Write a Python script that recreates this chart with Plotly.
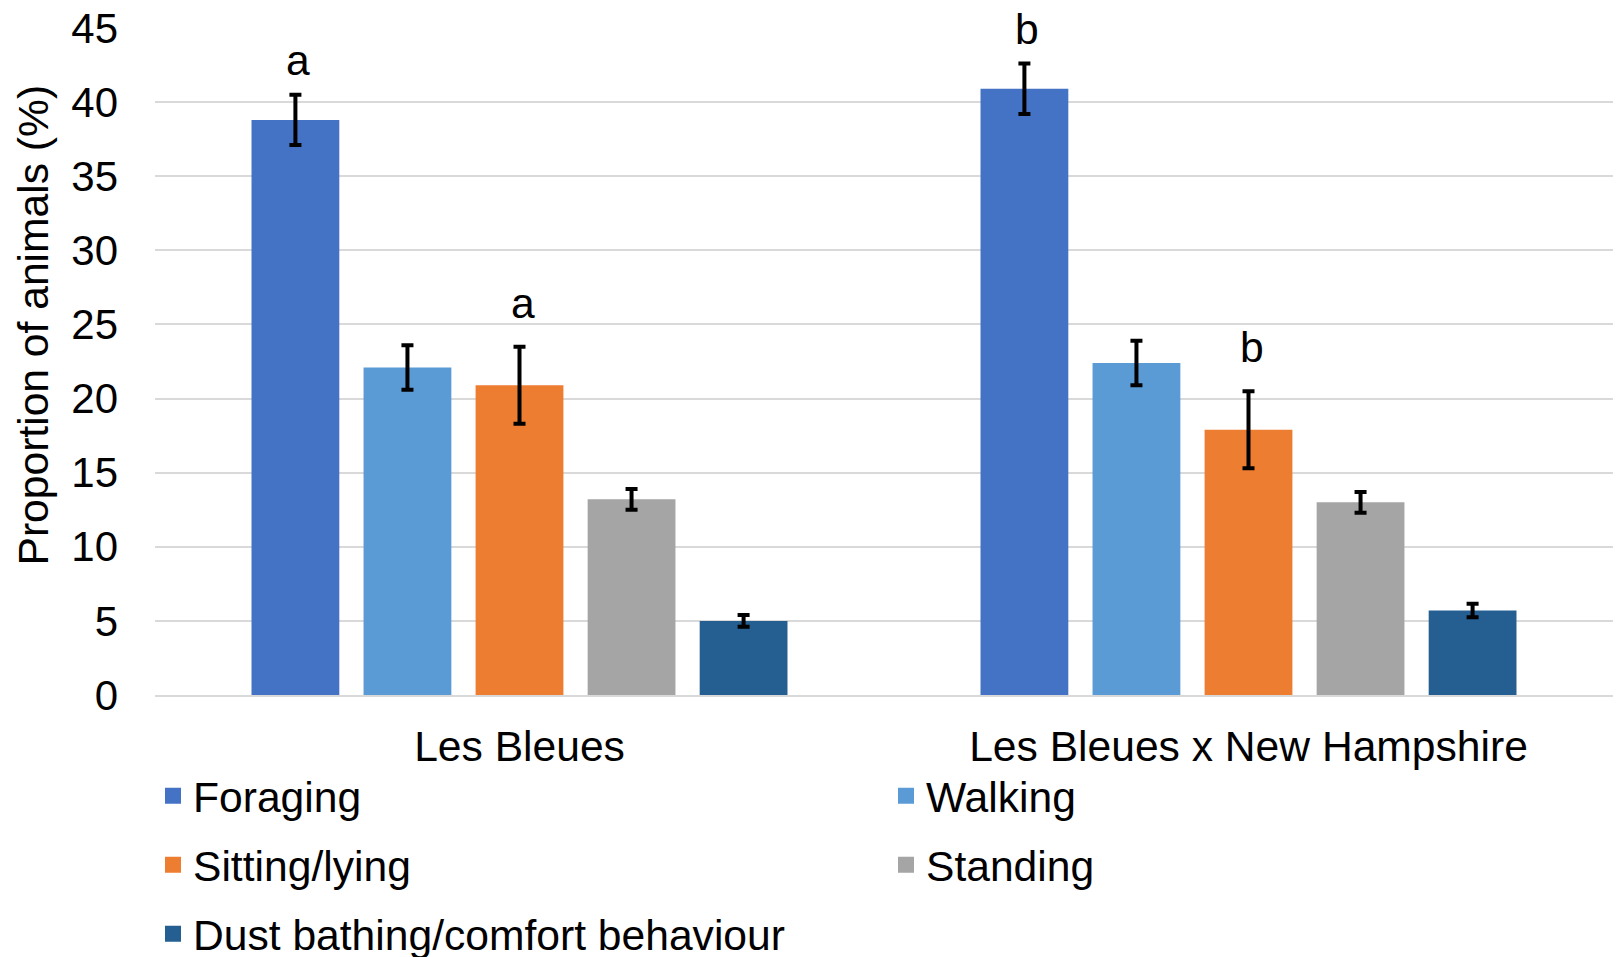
import plotly.graph_objects as go

# Groups (crosses) and behaviour categories
groups = ["Les Bleues", "Les Bleues x New Hampshire"]
behaviours = ["Foraging", "Walking", "Sitting/lying", "Standing",
              "Dust bathing/comfort behaviour"]

# Mean proportion of animals (%) per behaviour, one list per group order
foraging = [38.8, 40.9]
walking = [22.1, 22.4]
sitting = [20.9, 17.9]
standing = [13.2, 13.0]
dust = [5.0, 5.7]

# Error bar half-lengths
foraging_err = [1.7, 1.7]
walking_err = [1.5, 1.5]
sitting_err = [2.6, 2.6]
standing_err = [0.7, 0.7]
dust_err = [0.4, 0.45]

# Significance letters above Foraging and Sitting/lying bars
foraging_letters = ["a", "b"]
sitting_letters = ["a", "b"]

colors = ["#4472C4", "#5B9BD5", "#ED7D31", "#A5A5A5", "#255E91"]
values = [foraging, walking, sitting, standing, dust]
errors = [foraging_err, walking_err, sitting_err, standing_err, dust_err]

FONT = "Liberation Sans, Arial, sans-serif"
TEXT_SIZE = 42.6
TICK_SIZE = 42
BARGAP = 0.2315
GROUPGAP = 0.2164
ML, MR, MT, MB = 155, 6, 28, 262
W, H = 1619, 957

fig = go.Figure()

for name, vals, errs, col in zip(behaviours, values, errors, colors):
    fig.add_trace(go.Bar(
        x=groups, y=vals, name=name, marker_color=col,
        marker_line_width=0, showlegend=False,
        error_y=dict(type="data", array=errs, visible=True,
                     color="black", thickness=4, width=6),
    ))

# Legend: one single-entry legend per behaviour, arranged in a 2-column grid
legend_ids = ["legend", "legend2", "legend3", "legend4", "legend5"]
legend_cells = [(0, 0), (1, 0), (0, 1), (1, 1), (0, 2)]  # (column, row)
col_x = [153, 886]          # px from left where each entry starts
row_y = [796, 865, 934]     # px from top, entry centre line

for name, col, lg in zip(behaviours, colors, legend_ids):
    fig.add_trace(go.Scatter(
        x=[None], y=[None], mode="markers", name=name, legend=lg,
        marker=dict(symbol="square", size=22, color=col, line_width=0),
    ))

# Letter annotations placed over the error bar of each bar
n = len(behaviours)
slot = (1 - BARGAP) / n


def bar_center(group_idx, trace_idx):
    return group_idx - (1 - BARGAP) / 2 + slot * (trace_idx + 0.5)


for trace_idx, letters, lift in [(0, foraging_letters, 9),
                                 (2, sitting_letters, 18)]:
    for g, letter in enumerate(letters):
        top = values[trace_idx][g] + errors[trace_idx][g]
        fig.add_annotation(
            x=bar_center(g, trace_idx), y=top, xref="x", yref="y",
            text=letter, showarrow=False, yanchor="bottom", yshift=lift,
            xshift=3, font=dict(family=FONT, size=TEXT_SIZE, color="black"),
        )

# Vertical axis title
plot_w = W - ML - MR
fig.add_annotation(
    x=(33 - ML) / plot_w, y=0.554, xref="paper", yref="paper",
    text="Proportion of animals (%)", textangle=-90, showarrow=False,
    xanchor="center", yanchor="middle",
    font=dict(family=FONT, size=TEXT_SIZE, color="black"),
)

legend_layout = {}
for lg, (c, r) in zip(legend_ids, legend_cells):
    legend_layout[lg] = dict(
        orientation="h", xref="container", yref="container",
        x=col_x[c] / W, y=1 - row_y[r] / H,
        xanchor="left", yanchor="middle", itemsizing="trace",
        font=dict(family=FONT, size=TEXT_SIZE, color="black"),
        bgcolor="rgba(0,0,0,0)", borderwidth=0,
    )

fig.update_layout(
    width=W, height=H,
    paper_bgcolor="white", plot_bgcolor="white",
    margin=dict(l=ML, r=MR, t=MT, b=MB, autoexpand=False),
    barmode="group", bargap=BARGAP, bargroupgap=GROUPGAP,
    font=dict(family=FONT, color="black"),
    xaxis=dict(
        showgrid=False, showline=True, linecolor="#D9D9D9", linewidth=2,
        ticks="", tickfont=dict(family=FONT, size=TEXT_SIZE, color="black"),
        ticklabelstandoff=13,
    ),
    yaxis=dict(
        range=[0, 45], dtick=5, showgrid=True, gridcolor="#D9D9D9",
        gridwidth=2, zeroline=False, showline=False, ticks="",
        tickfont=dict(family=FONT, size=TICK_SIZE, color="black"),
        ticklabelstandoff=36,
    ),
    **legend_layout,
)

fig.write_html("out.html")
